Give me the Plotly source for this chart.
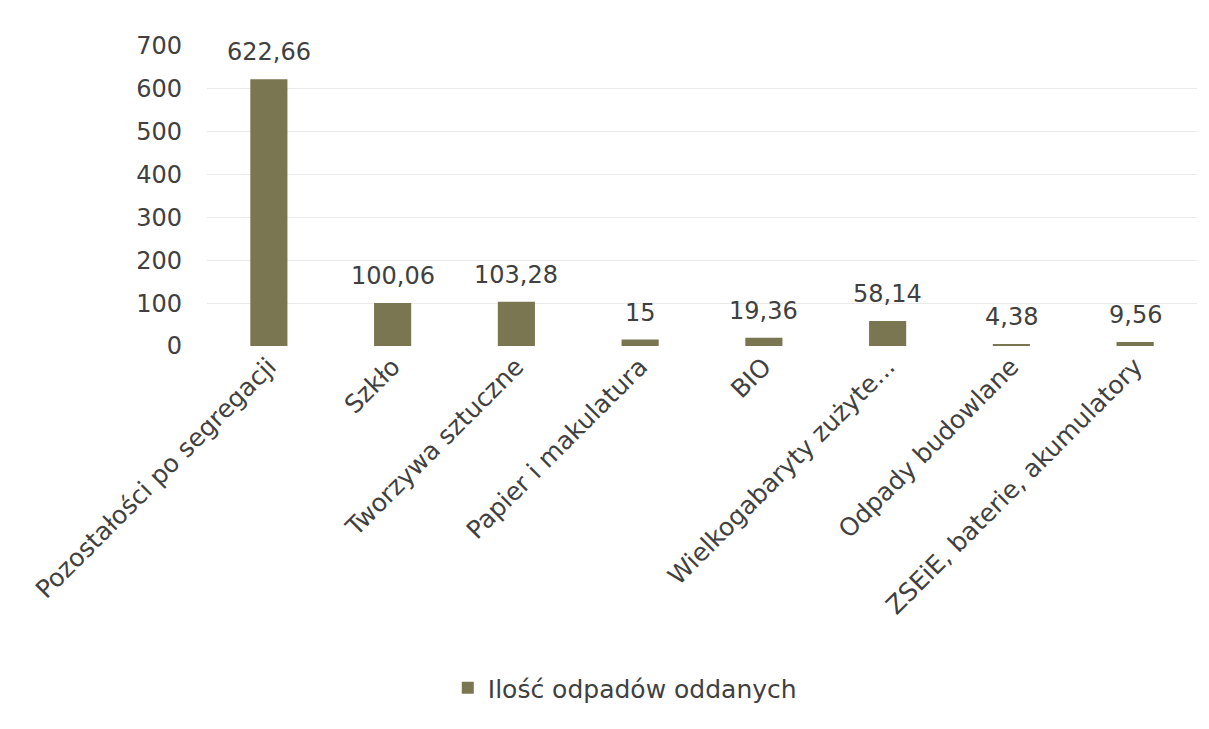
import plotly.graph_objects as go

categories = [
    "Pozostałości po segregacji",
    "Szkło",
    "Tworzywa sztuczne",
    "Papier i makulatura",
    "BIO",
    "Wielkogabaryty zużyte...",
    "Odpady budowlane",
    "ZSEiE, baterie, akumulatory",
]
values = [622.66, 100.06, 103.28, 15, 19.36, 58.14, 4.38, 9.56]
value_labels = ["622,66", "100,06", "103,28", "15", "19,36", "58,14", "4,38", "9,56"]
series_name = "Ilość odpadów oddanych"
y_ticks = [0, 100, 200, 300, 400, 500, 600, 700]

FONT = "DejaVu Sans"
TXT = "#404040"

fig = go.Figure(
    go.Bar(
        x=categories,
        y=values,
        name=series_name,
        marker=dict(color="#7b7652", line=dict(width=0)),
        showlegend=True,
    )
)

for cat, val, lab in zip(categories, values, value_labels):
    fig.add_annotation(
        x=cat,
        y=val,
        text=lab,
        showarrow=False,
        xanchor="center",
        yanchor="bottom",
        yshift=11,
        font=dict(family=FONT, size=24, color=TXT),
    )

fig.update_layout(
    width=1209,
    height=729,
    paper_bgcolor="white",
    plot_bgcolor="white",
    font=dict(family=FONT, size=24, color=TXT),
    margin=dict(l=199, r=20, t=38, b=391, autoexpand=False),
    bargap=0.70,
    legend=dict(
        orientation="h",
        x=0.422,
        y=-1.14,
        xanchor="center",
        yanchor="middle",
        font=dict(family=FONT, size=25, color=TXT),
    ),
    xaxis=dict(
        tickangle=-45,
        tickfont=dict(family=FONT, size=25, color=TXT),
        showline=False,
        ticks="",
    ),
    yaxis=dict(
        range=[0, 700],
        tickvals=y_ticks,
        showgrid=True,
        gridcolor="#eaeaea",
        gridwidth=1,
        zeroline=False,
        ticks="",
        ticklabelstandoff=24,
        tickfont=dict(family=FONT, size=24, color=TXT),
    ),
)

fig.write_html("out.html")
